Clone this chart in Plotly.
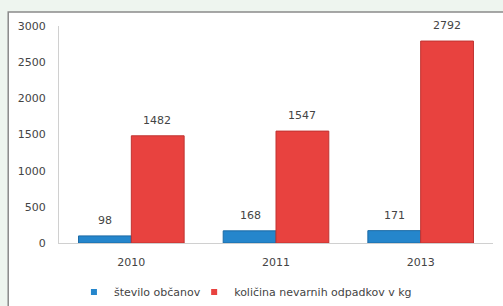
import plotly.graph_objects as go

categories = ["2010", "2011", "2013"]
obcani = [98, 168, 171]
odpadki = [1482, 1547, 2792]
series_names = ["število občanov", "količina nevarnih odpadkov v kg"]
y_ticks = [0, 500, 1000, 1500, 2000, 2500, 3000]

font_family = "'DejaVu Sans', sans-serif"
text_color = "#444444"
blue = "#2586cc"
red = "#e8423f"

fig = go.Figure()
fig.add_trace(go.Bar(
    x=categories, y=obcani, name=series_names[0], showlegend=False,
    marker=dict(color=blue, line=dict(color="#1b6aa5", width=1)),
))
fig.add_trace(go.Bar(
    x=categories, y=odpadki, name=series_names[1], showlegend=False,
    marker=dict(color=red, line=dict(color="#c03331", width=1)),
))
# legend entries with small square markers (one legend box per series)
fig.add_trace(go.Scatter(x=[categories[0]], y=[None], mode="markers", name=series_names[0],
                         marker=dict(symbol="square", size=6, color=blue), legend="legend"))
fig.add_trace(go.Scatter(x=[categories[0]], y=[None], mode="markers", name=series_names[1],
                         marker=dict(symbol="square", size=6, color=red), legend="legend2"))

# value labels above bars (x given as category index)
bar_offset_px = 26
for i, cat in enumerate(categories):
    for vals, shift in ((obcani, -bar_offset_px), (odpadki, bar_offset_px)):
        fig.add_annotation(x=i, y=vals[i], text=str(vals[i]), showarrow=False,
                           xshift=shift, yshift=7, yanchor="bottom",
                           font=dict(size=11, color=text_color, family=font_family))

fig.add_shape(type="rect", xref="paper", yref="paper",
              x0=-0.117, x1=1.3, y0=-0.6, y1=1.065,
              fillcolor="white", line=dict(color="#8a8a8a", width=1.5),
              layer="below")

legend_common = dict(orientation="h", xref="container", yref="container",
                     xanchor="left", y=0.046, yanchor="middle",
                     font=dict(size=11, color=text_color), itemwidth=30,
                     bgcolor="rgba(0,0,0,0)")

fig.update_layout(
    width=503, height=306,
    margin=dict(l=59, r=10, t=26, b=63),
    paper_bgcolor="#eef5ef",
    plot_bgcolor="rgba(0,0,0,0)",
    barmode="group",
    bargap=0.27,
    bargroupgap=0,
    font=dict(family=font_family, size=11, color=text_color),
    showlegend=True,
    legend=dict(x=0.147, **legend_common),
    legend2=dict(x=0.386, **legend_common),
    xaxis=dict(type="category", categoryorder="array", categoryarray=categories,
               range=[-0.5, 2.5],
               showline=True, linecolor="#d0d0d0", linewidth=1, ticks="",
               tickfont=dict(size=11, color=text_color), showgrid=False,
               automargin=False, ticklabelstandoff=9),
    yaxis=dict(range=[0, 3000], tickvals=y_ticks, showgrid=False, zeroline=False,
               showline=True, linecolor="#d0d0d0", linewidth=1, ticks="",
               tickfont=dict(size=11, color=text_color), automargin=False,
               ticklabelstandoff=10),
)

fig.write_html("out.html", config={"displayModeBar": False},
               post_script="document.body.style.margin='0';document.body.style.background='#eef5ef';")
